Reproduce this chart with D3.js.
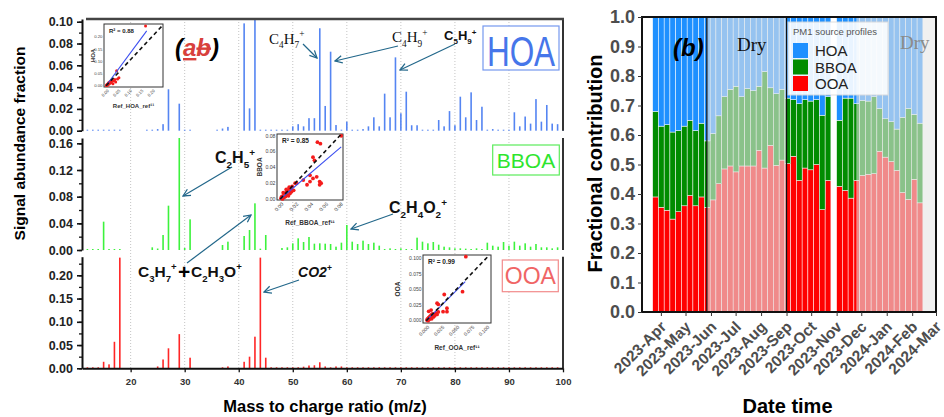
<!DOCTYPE html>
<html>
<head>
<meta charset="utf-8">
<title>PMF profiles and fractional contribution</title>
<script src="https://d3js.org/d3.v7.min.js"></script>
<style>
  body { margin: 0; background: #fff; }
  svg text { font-family: "Liberation Sans", Arial, sans-serif; }
</style>
</head>
<body>
<svg id="chart" width="944" height="417"></svg>
<script>
// ---------- panel (a): mass spectra profiles, m/z 12..100 ----------
const mz = [12,13,14,15,16,17,18,19,20,21,22,23,24,25,26,27,28,29,30,31,32,33,34,35,36,37,38,39,40,41,
  42,43,44,45,46,47,48,49,50,51,52,53,54,55,56,57,58,59,60,61,62,63,64,65,66,67,68,69,70,71,
  72,73,74,75,76,77,78,79,80,81,82,83,84,85,86,87,88,89,90,91,92,93,94,95,96,97,98,99,100];

const hoaSpec = [0.0008,0.0008,0.0008,0.0008,0.0008,0.0008,0.0008,0,0,0,
  0,0.0008,0.0008,0.0015,0.006,0.038,0,0.0248,0.0008,0.0008,
  0,0,0,0,0.0008,0.002,0.0035,0,0,0.0985,
  0.0205,0.115,0.0008,0.0008,0.0008,0.0008,0.0008,0.0008,0.004,0.006,
  0.004,0.0115,0.0115,0.094,0.0227,0.0725,0.0052,0.0008,0.0083,0.0008,
  0.0008,0.0015,0.004,0.0123,0.004,0.034,0.0123,0.0673,0.016,0.0358,
  0.005,0.005,0.0008,0.0008,0.0008,0.0098,0.004,0.018,0.005,0.0312,
  0.0123,0.0352,0.0098,0.022,0.0008,0.0015,0.0008,0.0008,0.0008,0.0169,
  0.004,0.013,0.0065,0.029,0.0083,0.0236,0.0065,0.006,0.0008];

const bboaSpec = [0.0012,0.0012,0.0012,0.0425,0.0012,0.0012,0.0012,0,0,0,
  0,0,0.004,0.0022,0.0225,0.0665,0,0.168,0.003,0.046,
  0,0,0,0,0,0.0075,0.0125,0,0,0.021,
  0.030,0.070,0.002,0.0225,0,0,0.003,0.004,0.01,0.0175,
  0.012,0.0195,0.0095,0.010,0.0095,0.009,0.005,0.011,0.0375,0.0125,
  0.009,0.014,0.009,0.011,0.0065,0.0012,0.0025,0.0012,0.0025,0.0012,
  0.0012,0.0185,0.0125,0.01,0.012,0.008,0.005,0.004,0.0025,0.0025,
  0.002,0.0012,0.0025,0.0012,0.011,0.0065,0.005,0.012,0.0065,0.0125,
  0.0065,0.01,0.005,0.009,0.004,0.004,0.0025,0.004,0.005];

const ooaSpec = [0.0006,0.0006,0.0006,0.014,0.0085,0.057,0.238,0,0,0,
  0,0,0,0.004,0.019,0.043,0,0.0735,0,0.0228,
  0,0,0,0,0,0.002,0.004,0,0,0.014,
  0.025,0.068,0.238,0.0228,0.0008,0.0008,0.0008,0.0008,0.002,0.002,
  0.0035,0.006,0.0065,0.013,0.004,0.002,0.004,0.004,0.001,0.001,
  0.001,0.001,0.001,0.001,0.001,0.001,0.002,0.001,0.002,0.002,
  0.002,0.001,0.001,0.001,0.001,0.001,0.001,0.001,0.001,0.001,
  0.001,0.001,0.001,0.002,0.001,0.002,0.001,0.001,0.001,0.001,
  0.001,0.001,0.001,0.001,0.001,0.001,0.001,0.002,0.001];

const mzTicks = [20,30,40,50,60,70,80,90,100];
const hoaTicks = [0,0.02,0.04,0.06,0.08,0.10];
const bboaTicks = [0,0.04,0.08,0.12,0.16];
const ooaTicks = [0,0.05,0.10,0.15,0.20];

// inset scatter plots: reference profile vs. resolved factor
const hoaRef = [0.001,0.003,0.004,0.006,0.008,0.009,0.011,0.013,0.015,0.017,0.02,0.023,0.026,0.03,0.034,0.038,0.042,0.05,0.056,0.046,0.172];
const hoaFac = [0.001,0.004,0.002,0.006,0.003,0.009,0.012,0.007,0.015,0.01,0.018,0.013,0.022,0.008,0.02,0.026,0.015,0.028,0.033,0.061,0.244];
const hoaFit = [0.177, 0.224];
const bboaRef = [0.001,0.002,0.003,0.004,0.005,0.006,0.007,0.008,0.009,0.01,0.011,0.012,0.013,0.014,0.015,0.016,0.018,0.02,
  0.004,0.008,0.012,0.022,0.031,0.036,0.04,0.04,0.044,0.046,0.044,0.049,0.053,0.055,0.053,0.05,0.054,0.082];
const bboaFac = [0.001,0.003,0.0,0.004,0.002,0.006,0.003,0.008,0.005,0.01,0.004,0.012,0.007,0.014,0.009,0.016,0.011,0.02,
  0.008,0.012,0.015,0.02,0.024,0.018,0.022,0.03,0.026,0.049,0.053,0.028,0.022,0.02,0.018,0.072,0.07,0.08];
const bboaFit = [0.082, 0.066];
const ooaRef = [0.001,0.002,0.003,0.004,0.005,0.006,0.007,0.008,0.009,0.01,0.012,0.014,0.016,0.018,0.02,
  0.004,0.008,0.018,0.02,0.028,0.0345,0.0345,0.03,0.0605,0.066];
const ooaFac = [0.001,0.003,0.0,0.005,0.002,0.007,0.004,0.009,0.003,0.011,0.006,0.008,0.012,0.01,0.014,
  0.015,0.017,0.028,0.026,0.0145,0.02,0.0145,0.042,0.0465,0.1026];
const ooaFit = [0.065, 0.0625];

// ---------- panel (b): weekly fractional contribution ----------
const weeks = ["2023-03-22","2023-03-29","2023-04-05","2023-04-12","2023-04-19","2023-04-26","2023-05-03","2023-05-10",
  "2023-05-17","2023-05-24","2023-05-31","2023-06-07","2023-06-14","2023-06-21","2023-06-28","2023-07-05","2023-07-12",
  "2023-07-19","2023-07-26","2023-08-02","2023-08-09","2023-08-16","2023-08-23","2023-08-30","2023-09-06","2023-09-13",
  "2023-09-20","2023-09-27","2023-10-04","2023-10-11","2023-10-18","2023-10-25","2023-11-01","2023-11-08","2023-11-15",
  "2023-11-22","2023-11-29","2023-12-06","2023-12-13","2023-12-20","2023-12-27","2024-01-03","2024-01-10","2024-01-17",
  "2024-01-24","2024-01-31","2024-02-07"];
const ooaFrac = [0.39,0.355,0.345,0.315,0.34,0.36,0.395,0.36,0.39,0.355,0.38,0.435,0.485,0.495,0.475,0.495,0.495,0.495,
  0.548,0.488,0.565,0.497,0.515,0.503,0.528,0.446,0.488,0.482,0.50,0.347,0.446,null,0.426,0.412,0.386,0.446,0.463,
  0.467,0.469,0.545,0.525,0.51,0.48,0.405,0.382,0.45,0.37];
const bboaFrac = [0.29,0.275,0.29,0.295,0.275,0.27,0.255,0.255,0.25,0.225,0.225,0.23,0.245,0.26,0.29,0.235,0.262,0.255,
  0.217,0.327,0.195,0.243,0.24,0.222,0.192,0.26,0.232,0.233,0.22,0.32,0.284,null,0.224,0.313,0.339,0.26,0.254,
  0.248,0.261,0.145,0.13,0.135,0.14,0.255,0.308,0.22,0.27];
const hoaFrac = [0.32,0.37,0.365,0.39,0.385,0.37,0.35,0.385,0.36,0.42,0.395,0.335,0.27,0.245,0.235,0.27,0.243,0.25,
  0.235,0.185,0.24,0.26,0.245,0.275,0.28,0.294,0.28,0.285,0.28,0.333,0.27,null,0.35,0.275,0.275,0.294,0.283,
  0.285,0.27,0.31,0.345,0.355,0.38,0.34,0.31,0.33,0.36];
const dryPeriods = [["2023-05-27","2023-09-01"],["2023-11-25","2024-03-01"]];
const monthTicks = ["2023-04-01","2023-05-01","2023-06-01","2023-07-01","2023-08-01","2023-09-01","2023-10-01",
  "2023-11-01","2023-12-01","2024-01-01","2024-02-01","2024-03-01"];
const monthLabels = ["2023-Apr","2023-May","2023-Jun","2023-Jul","2023-Aug","2023-Sep","2023-Oct","2023-Nov",
  "2023-Dec","2024-Jan","2024-Feb","2024-Mar"];
const sources = ["HOA","BBOA","OOA"];

const svg = d3.select("#chart");
const parse = d3.timeParse("%Y-%m-%d");
const arrowColor = "#22678a";

svg.append("defs").append("marker")
  .attr("id", "arr").attr("viewBox", "0 0 10 10").attr("refX", 9).attr("refY", 5)
  .attr("markerWidth", 9).attr("markerHeight", 9).attr("markerUnits", "userSpaceOnUse").attr("orient", "auto")
  .append("path").attr("d", "M1,1 L9,5 L1,9").attr("fill", "none")
  .attr("stroke", arrowColor).attr("stroke-width", 1.4);

// ===== panel (a) =====
const x = d3.scaleLinear().domain([11, 100]).range([82, 563]);

const panels = [
  {values: hoaSpec, domain: [0, 0.1025], range: [130.7, 19], ticks: hoaTicks, minor: d3.range(0, 0.101, 0.01), color: "#5585f2"},
  {values: bboaSpec, domain: [0, 0.168], range: [250, 138], ticks: bboaTicks, minor: d3.range(0, 0.161, 0.02), color: "#3df23d"},
  {values: ooaSpec, domain: [0, 0.24], range: [368.3, 256.7], ticks: ooaTicks, minor: d3.range(0, 0.226, 0.025), color: "#ff2626"}
];

// dotted grid
svg.append("g").selectAll("line").data(mzTicks.slice(0, -1)).enter().append("line")
  .attr("x1", d => x(d)).attr("x2", d => x(d)).attr("y1", 19).attr("y2", 368)
  .attr("stroke", "#b5b5b5").attr("stroke-width", 0.8).attr("stroke-dasharray", "1,2");

panels.forEach(p => {
  const y = d3.scaleLinear().domain(p.domain).range(p.range).clamp(true);
  svg.append("g").selectAll("rect").data(mz).enter().append("rect")
    .filter((d, i) => p.values[i] > 0)
    .attr("x", d => x(d) - 0.8)
    .attr("width", 1.6)
    .attr("y", d => Math.min(y(p.values[mz.indexOf(d)]), y(0) - 1))
    .attr("height", d => Math.max(1, y(0) - y(p.values[mz.indexOf(d)])))
    .attr("fill", p.color);

  // minor ticks
  svg.append("g").attr("transform", "translate(82,0)")
    .call(d3.axisLeft(y).tickValues(p.minor).tickSize(3).tickFormat("").tickSizeOuter(0))
    .call(g => g.select(".domain").remove())
    .selectAll("line").attr("stroke", "#111").attr("stroke-width", 1.3);

  const ax = svg.append("g").attr("transform", "translate(82,0)")
    .call(d3.axisLeft(y).tickValues(p.ticks).tickFormat(d3.format(".2f")).tickSize(5).tickPadding(4).tickSizeOuter(0));
  ax.select(".domain").attr("stroke", "#111").attr("stroke-width", 2);
  ax.selectAll(".tick line").attr("stroke", "#111").attr("stroke-width", 1.6);
  ax.selectAll("text").style("font-size", "12.5px").style("font-weight", "bold").attr("fill", "#222");

  // right border of each stacked panel
  svg.append("line").attr("x1", 563).attr("x2", 563).attr("y1", p.range[1]).attr("y2", p.range[0])
    .attr("stroke", "#333").attr("stroke-width", 2);
});

// top border
svg.append("line").attr("x1", 86).attr("x2", 564).attr("y1", 19).attr("y2", 19)
  .attr("stroke", "#444").attr("stroke-width", 2.5);

// bottom axis
const axX = svg.append("g").attr("transform", "translate(0,368.3)")
  .call(d3.axisBottom(x).tickValues(mzTicks).tickSize(4).tickPadding(6).tickSizeOuter(0));
axX.select(".domain").attr("stroke", "#111").attr("stroke-width", 2);
axX.selectAll(".tick line").attr("stroke", "#111").attr("stroke-width", 1.3);
axX.selectAll("text").style("font-size", "9.5px").style("font-weight", "bold").attr("fill", "#333");

svg.append("text").attr("x", 325).attr("y", 411.5).attr("text-anchor", "middle")
  .style("font-size", "16.5px").style("font-weight", "bold").text("Mass to charge ratio (m/z)");
svg.append("text").attr("transform", "translate(25,143.5) rotate(-90)").attr("text-anchor", "middle")
  .style("font-size", "15.5px").style("font-weight", "bold").text("Signal abundance fraction");

// factor name boxes
const boxes = [
  {t: "HOA", x: 483, y: 26, w: 76, h: 44, tx: 521, ty: 66, fs: 42, sx: 0.75, stroke: "#7598ef", fill: "#4676ea"},
  {t: "BBOA", x: 492.7, y: 145, w: 66.6, h: 30, tx: 526, ty: 168, fs: 21, sx: 1, stroke: "#5bec5b", fill: "#2ee52e"},
  {t: "OOA", x: 502.3, y: 260, w: 56, h: 31.7, tx: 530.3, ty: 283.5, fs: 23, sx: 1, stroke: "#f28b8b", fill: "#f06565"}
];
boxes.forEach(b => {
  svg.append("rect").attr("x", b.x).attr("y", b.y).attr("width", b.w).attr("height", b.h)
    .attr("fill", "#fff").attr("stroke", b.stroke).attr("stroke-width", 1.2);
  svg.append("text").attr("transform", `translate(${b.tx},${b.ty}) scale(${b.sx},1)`)
    .attr("text-anchor", "middle").style("font-size", b.fs + "px").attr("fill", b.fill).text(b.t);
});

// (ab) label
const abl = svg.append("text").attr("x", 175).attr("y", 56).style("font-size", "24px")
  .style("font-weight", "bold").style("font-style", "italic");
abl.append("tspan").text("(");
abl.append("tspan").attr("fill", "#d8403c").style("text-decoration", "underline").text("a");
abl.append("tspan").attr("fill", "#d8403c").style("text-decoration", "line-through").text("b");
abl.append("tspan").text(")");

// chemical formula helper: _x subscript, ^x superscript
function chem(px, py, str, size, opt) {
  const t = svg.append("text").attr("x", px).attr("y", py).style("font-size", size + "px")
    .style("white-space", "pre").attr("fill", "#111");
  if (opt.serif) t.style("font-family", "'Liberation Serif', 'DejaVu Serif', serif");
  if (opt.bold) t.style("font-weight", "bold");
  if (opt.italic) t.style("font-style", "italic");
  let off = 0;
  for (let i = 0; i < str.length; i++) {
    let c = str[i], mode = 0;
    if (c === "_" || c === "^") { mode = c === "_" ? 1 : -1; i++; c = str[i]; }
    const target = mode > 0 ? size * 0.3 : mode < 0 ? -size * 0.42 : 0;
    const sp = t.append("tspan").attr("dy", target - off).text(c);
    if (mode) sp.style("font-size", (size * 0.62) + "px");
    off = target;
  }
  return t;
}
function arrow(x1, y1, x2, y2) {
  svg.append("line").attr("x1", x1).attr("y1", y1).attr("x2", x2).attr("y2", y2)
    .attr("stroke", arrowColor).attr("stroke-width", 1.2).attr("marker-end", "url(#arr)");
}

chem(269, 43.5, "C_4H_7^+", 15, {serif: true});
arrow(303, 44, 317, 58);
chem(392, 42, "C_4H_9^+", 15, {serif: true});
arrow(398, 46, 335, 61);
chem(444, 40, "C_5H_9^+", 13, {bold: true});
arrow(455, 44, 400, 70);
chem(215, 163, "C_2H_5^+", 16, {bold: true});
arrow(232, 167, 183, 196);
chem(389, 213, "C_2H_4O_2^+", 16, {bold: true});
arrow(393, 214, 351, 229);
chem(138, 277, "C_3H_7^+", 15.5, {bold: true});
svg.append("text").attr("x", 178).attr("y", 279).style("font-size", "21px").style("font-weight", "bold").text("+");
chem(191, 277, "C_2H_3O^+", 15.5, {bold: true});
arrow(187, 263, 251, 215);
chem(298, 277, "CO2^+", 14, {bold: true, italic: true});
arrow(299, 280, 264, 292);

// inset scatter plots
function inset(c, xs, ys, fit) {
  const g = svg.append("g");
  const ix = d3.scaleLinear().domain(c.xd).range([c.x0, c.x1]);
  const iy = d3.scaleLinear().domain(c.yd).range([c.y1, c.y0]);
  g.append("rect").attr("x", c.x0).attr("y", c.y0).attr("width", c.x1 - c.x0).attr("height", c.y1 - c.y0)
    .attr("fill", "#fff").attr("stroke", "#333").attr("stroke-width", 1);
  g.selectAll("circle").data(xs).enter().append("circle")
    .attr("cx", d => ix(d)).attr("cy", (d, i) => iy(ys[i])).attr("r", c.r).attr("fill", "#f41c1c");
  g.append("line").attr("x1", ix(0)).attr("y1", iy(0)).attr("x2", ix(fit[0])).attr("y2", iy(fit[1]))
    .attr("stroke", "#3a4df0").attr("stroke-width", 1.1);
  g.append("line").attr("x1", ix(0)).attr("y1", iy(0)).attr("x2", ix(c.diag)).attr("y2", iy(c.diag))
    .attr("stroke", "#111").attr("stroke-width", 1.6).attr("stroke-dasharray", "4,3");
  const f = d3.format(c.fmt);
  g.selectAll(".yt").data(c.ticks).enter().append("text")
    .attr("x", c.x0 - 1.5).attr("y", d => iy(d) + c.fs * 0.35).attr("text-anchor", "end")
    .style("font-size", c.fs + "px").attr("fill", "#444").text(f);
  g.selectAll(".xt").data(c.ticks).enter().append("text")
    .attr("transform", d => `translate(${ix(d) + 1},${c.y1 + 2}) rotate(-45)`).attr("text-anchor", "end")
    .attr("dy", "0.7em").style("font-size", c.fs + "px").attr("fill", "#444").text(f);
  g.append("text").attr("x", c.x0 + 5).attr("y", c.y0 + c.ts + 2.5).style("font-size", c.ts + "px")
    .style("font-weight", "bold").attr("fill", "#222").text("R\u00b2 = " + c.r2);
  g.append("text").attr("transform", `translate(${c.ylx},${(c.y0 + c.y1) / 2}) rotate(-90)`)
    .attr("text-anchor", "middle").style("font-size", c.ts + "px").style("font-weight", "bold")
    .attr("fill", "#333").text(c.name);
  g.append("text").attr("x", (c.x0 + c.x1) / 2).attr("y", c.xly).attr("text-anchor", "middle")
    .style("font-size", c.ts + "px").style("font-weight", "bold").attr("fill", "#333")
    .text("Ref_" + c.name + "_ref\u00b9\u00b9");
}
inset({name: "HOA", x0: 104, x1: 163, y0: 24, y1: 87, xd: [-0.009, 0.248], yd: [-0.005, 0.252], diag: 0.25,
  ticks: [0, 0.05, 0.10, 0.15, 0.20], fmt: ".2f", fs: 4.3, ts: 6, r: 1.5, r2: "0.88", ylx: 95, xly: 108}, hoaRef, hoaFac, hoaFit);
inset({name: "BBOA", x0: 277, x1: 343, y0: 134, y1: 200, xd: [-0.0044, 0.0844], yd: [-0.0013, 0.0823], diag: 0.081,
  ticks: [0, 0.02, 0.04, 0.06, 0.08], fmt: ".2f", fs: 5.2, ts: 6.5, r: 1.9, r2: "0.85", ylx: 262, xly: 225}, bboaRef, bboaFac, bboaFit);
inset({name: "OOA", x0: 423, x1: 491, y0: 255, y1: 323, xd: [-0.0055, 0.108], yd: [-0.0037, 0.1053], diag: 0.104,
  ticks: [0, 0.025, 0.05, 0.075, 0.10], fmt: ".3f", fs: 5, ts: 6.5, r: 1.9, r2: "0.99", ylx: 400, xly: 350}, ooaRef, ooaFac, ooaFit);

// ===== panel (b) =====
const xb = d3.scaleTime().domain([parse("2023-03-09"), parse("2024-03-01")]).range([642, 936]);
const yb = d3.scaleLinear().domain([0, 1]).range([312, 17]);
const colorB = d3.scaleOrdinal().domain(sources).range(["#1e90ff", "#008c00", "#ff0000"]);

const rows = weeks.map((w, i) => ({date: parse(w), OOA: ooaFrac[i], BBOA: bboaFrac[i], HOA: hoaFrac[i]}))
  .filter(r => r.OOA !== null);
const stack = d3.stack().keys(["OOA", "BBOA", "HOA"])(rows);

svg.append("rect").attr("x", 642).attr("y", 17).attr("width", 294).attr("height", 295).attr("fill", "#fff");

svg.append("g").selectAll("g").data(stack).enter().append("g")
  .attr("fill", d => colorB(d.key))
  .selectAll("rect").data(d => d).enter().append("rect")
  .attr("x", d => xb(d.data.date))
  .attr("width", d => xb(d3.timeDay.offset(d.data.date, 7)) - xb(d.data.date))
  .attr("y", d => yb(d[1]))
  .attr("height", d => yb(d[0]) - yb(d[1]))
  .attr("stroke", "#fff").attr("stroke-width", 0.5);

// dry season shading
svg.append("g").selectAll("rect").data(dryPeriods).enter().append("rect")
  .attr("x", d => xb(parse(d[0]))).attr("width", d => xb(parse(d[1])) - xb(parse(d[0])))
  .attr("y", 17).attr("height", 295).attr("fill", "#e6e6e6").attr("opacity", 0.6);
svg.append("g").selectAll("line").data(dryPeriods[0]).enter().append("line")
  .attr("x1", d => xb(parse(d))).attr("x2", d => xb(parse(d))).attr("y1", 17).attr("y2", 312)
  .attr("stroke", "#111").attr("stroke-width", 1.2);

svg.append("rect").attr("x", 642).attr("y", 17).attr("width", 294).attr("height", 295)
  .attr("fill", "none").attr("stroke", "#111").attr("stroke-width", 2);

const ayb = svg.append("g").attr("transform", "translate(642,0)")
  .call(d3.axisLeft(yb).ticks(10).tickFormat(d3.format(".1f")).tickSize(4).tickPadding(3).tickSizeOuter(0));
ayb.select(".domain").remove();
ayb.selectAll(".tick line").attr("stroke", "#333");
ayb.selectAll("text").style("font-size", "18px").style("font-weight", "bold").attr("fill", "#4d4d4d");

const axb = svg.append("g").attr("transform", "translate(0,312)")
  .call(d3.axisBottom(xb).tickValues(monthTicks.map(parse)).tickFormat((d, i) => monthLabels[i]).tickSize(4).tickSizeOuter(0));
axb.select(".domain").remove();
axb.selectAll(".tick line").attr("stroke", "#333");
axb.selectAll("text").attr("x", 0).attr("y", 0).attr("dy", "0.35em")
  .attr("transform", "translate(2,12) rotate(-45)").style("text-anchor", "end")
  .style("font-size", "15.5px").style("font-weight", "bold").attr("fill", "#4d4d4d");

svg.append("text").attr("x", 787.5).attr("y", 413).attr("text-anchor", "middle")
  .style("font-size", "20px").style("font-weight", "bold").text("Date time");
svg.append("text").attr("transform", "translate(602,163.5) rotate(-90)").attr("text-anchor", "middle")
  .style("font-size", "20px").style("font-weight", "bold").text("Fractional contribution");

svg.append("text").attr("x", 673).attr("y", 56).style("font-size", "24px").style("font-weight", "bold")
  .style("font-style", "italic").text("(b)");
svg.append("text").attr("x", 737).attr("y", 51).style("font-family", "'Liberation Serif', serif")
  .style("font-size", "19px").attr("fill", "#111").text("Dry");
svg.append("text").attr("x", 900).attr("y", 49).style("font-family", "'Liberation Serif', serif")
  .style("font-size", "19px").attr("fill", "#8a8a8a").text("Dry");

// legend
const lg = svg.append("g").attr("transform", "translate(788,22)");
lg.append("rect").attr("width", 100).attr("height", 73).attr("fill", "#fff").attr("opacity", 0.9)
  .attr("stroke", "#dcdcdc");
lg.append("text").attr("x", 5).attr("y", 13).style("font-size", "9.5px").attr("fill", "#555").text("PM1 source profiles");
const li = lg.selectAll(".li").data(sources).enter().append("g")
  .attr("transform", (d, i) => `translate(5,${21 + i * 16.5})`);
li.append("rect").attr("width", 15).attr("height", 15).attr("fill", d => colorB(d));
li.append("text").attr("x", 22).attr("y", 13).style("font-size", "15px").attr("fill", "#222").text(d => d);
</script>
</body>
</html>
